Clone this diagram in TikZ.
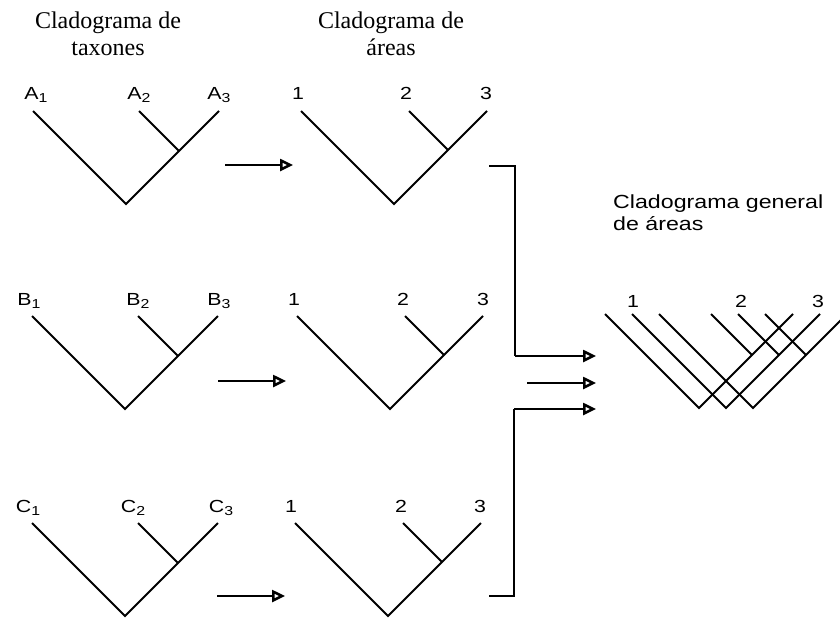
\documentclass[tikz,border=0pt]{standalone}
\usepackage{fontspec}
\setmainfont{Liberation Serif}
\newfontfamily\lblfont[FakeStretch=1.22]{Liberation Sans}
\usetikzlibrary{arrows.meta,calc}
\newcommand\lsub[1]{\raisebox{-3pt}{\fontsize{13}{13}\selectfont #1}}
% #1 prefix, #2 root x, #3 root y (down), #4 half height, #5 internal offset
\newcommand\clade[5]{%
  \coordinate (#1r) at (#2,-#3);
  \coordinate (#1l) at ($(#1r)+(-#4,#4)$);
  \coordinate (#1R) at ($(#1r)+(#4,#4)$);
  \coordinate (#1i) at ($(#1r)+(#5,#5)$);
  \coordinate (#1m) at ($(#1r)+(2*#5-#4,#4)$);
  \draw[branch] (#1l) -- (#1r) -- (#1R) (#1m) -- (#1i);
}
\begin{document}
\begin{tikzpicture}[x=1pt,y=1pt,
  branch/.style={line width=1.8pt},
  arr/.style={line width=1.2pt,-{Triangle[open,length=13pt,width=12pt,line width=2.5pt]}},
  brk/.style={line width=1.5pt},
  ttl/.style={font=\fontsize{24}{27}\selectfont,anchor=base,inner sep=0pt},
  lbl/.style={font=\lblfont\fontsize{17.5}{17.5}\selectfont,anchor=base,inner sep=0pt},
  gttl/.style={font=\lblfont\fontsize{19}{19}\selectfont,anchor=base west,inner sep=0pt},
]
\useasboundingbox (0,0) rectangle (840,-621);

% titles
\node[ttl] (t1a) at (108,-28) {Cladograma de};
\node[ttl] (t1b) at (108,-55) {taxones};
\node[ttl] (t2a) at (391,-28) {Cladograma de};
\node[ttl] (t2b) at (391,-55) {áreas};
\node[gttl] (t3a) at (613,-208) {Cladograma general};
\node[gttl] (t3b) at (613,-230) {de áreas};

% taxon cladograms
\clade{A}{126}{204}{93}{53}
\clade{B}{125}{409}{93}{53}
\clade{C}{125}{616}{93}{53}
\node[lbl] (lA1) at ($(Al)+(3,12)$) {A\lsub1};
\node[lbl] (lA2) at ($(Am)+(0,12)$) {A\lsub2};
\node[lbl] (lA3) at ($(AR)+(0,12)$) {A\lsub3};
\node[lbl] (lB1) at ($(Bl)+(-3,11)$) {B\lsub1};
\node[lbl] (lB2) at ($(Bm)+(0,11)$) {B\lsub2};
\node[lbl] (lB3) at ($(BR)+(1,11)$) {B\lsub3};
\node[lbl] (lC1) at ($(Cl)+(-4,11)$) {C\lsub1};
\node[lbl] (lC2) at ($(Cm)+(-5,11)$) {C\lsub2};
\node[lbl] (lC3) at ($(CR)+(3,11)$) {C\lsub3};

% area cladograms
\clade{P}{394}{204}{93}{54}
\clade{Q}{390}{409}{93}{54}
\clade{R}{388}{616}{93}{54}
\node[lbl] (lP1) at ($(Pl)+(-3,12)$) {1};
\node[lbl] (lP2) at ($(Pm)+(-3,12)$) {2};
\node[lbl] (lP3) at ($(PR)+(-1,12)$) {3};
\node[lbl] (lQ1) at ($(Ql)+(-3,11)$) {1};
\node[lbl] (lQ2) at ($(Qm)+(-2,11)$) {2};
\node[lbl] (lQ3) at ($(QR)+(0,11)$) {3};
\node[lbl] (lR1) at ($(Rl)+(-4,11)$) {1};
\node[lbl] (lR2) at ($(Rm)+(-2,11)$) {2};
\node[lbl] (lR3) at ($(RR)+(-1,11)$) {3};

% general area cladogram
\begin{scope}
\clip (0,0) rectangle (840,-621);
\clade{G}{699}{408}{94}{53}
\clade{H}{726}{408}{94}{53}
\clade{K}{753}{408}{94}{53}
\end{scope}
\node[lbl] (lG1) at ($(Hl)+(1,7)$) {1};
\node[lbl] (lG2) at ($(Hm)+(3,7)$) {2};
\node[lbl] (lG3) at ($(HR)+(-2,7)$) {3};

% arrows between cladograms
\coordinate (aAs) at (225,-165); \coordinate (aAe) at (293,-165);
\coordinate (aBs) at (218,-381); \coordinate (aBe) at (286,-381);
\coordinate (aCs) at (217,-596); \coordinate (aCe) at (285,-596);
\draw[arr] (aAs) -- (aAe);
\draw[arr] (aBs) -- (aBe);
\draw[arr] (aCs) -- (aCe);

% brackets to the general cladogram
\coordinate (b1s) at (489,-166); \coordinate (b1c) at (515,-166);
\coordinate (b1e) at (596,-356);
\coordinate (b2s) at (527,-383); \coordinate (b2e) at (596,-383);
\coordinate (b3s) at (489,-596); \coordinate (b3c) at (514,-596);
\coordinate (b3e) at (596,-409);
\draw[brk] (b1s) -- (b1c) -- (b1c |- b1e);
\draw[arr] (b1c |- b1e) -- (b1e);
\draw[arr] (b2s) -- (b2e);
\draw[brk] (b3s) -- (b3c) -- (b3c |- b3e);
\draw[arr] (b3c |- b3e) -- (b3e);
\end{tikzpicture}
\end{document}
